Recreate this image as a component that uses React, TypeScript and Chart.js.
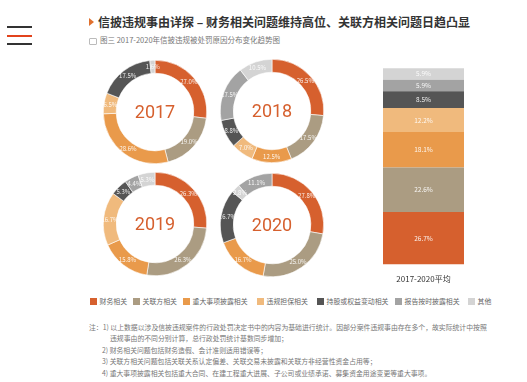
import React, { useEffect, useRef } from "react";
import { Chart, registerables } from "chart.js";

Chart.register(...registerables);

const categories = ["财务相关", "关联方相关", "重大事项披露相关", "违规担保相关", "持股或权益变动相关", "报告按时披露相关", "其他"];
const colors = ["#d6602e", "#ab9c82", "#e99a4b", "#f0ba7d", "#555555", "#a3a3a3", "#d4d4d4"];
const years = ["2017", "2018", "2019", "2020"];
const values2017 = [27.0, 19.0, 28.6, 6.5, 17.5, 0, 1.6];
const values2018 = [26.5, 17.5, 12.5, 7.0, 8.8, 17.5, 10.5];
const values2019 = [26.3, 26.3, 15.8, 16.7, 5.3, 4.4, 5.3];
const values2020 = [27.8, 25.0, 16.7, 0, 16.7, 11.1, 2.8];
const ringOrderDefault = [0, 1, 2, 3, 4, 5, 6];
const ringOrder2020 = [0, 1, 2, 3, 4, 6, 5];
const averageLabel = "2017-2020平均";
const averages = [26.7, 22.6, 18.1, 12.2, 8.5, 5.9, 5.9];

const title = "信披违规事由详探 – 财务相关问题维持高位、关联方相关问题日趋凸显";
const subtitle = "图三 2017-2020年信披违规被处罚原因分布变化趋势图";
const notes = [
  "注：1) 以上数据以涉及信披违规案件的行政处罚决定书中的内容为基础进行统计。因部分案件违规事由存在多个，故实际统计中按照",
  "违规事由的不同分别计算，总行政处罚统计基数同步增加；",
  "2) 财务相关问题包括财务造假、会计准则适用错误等；",
  "3) 关联方相关问题包括关联关系认定偏差、关联交易未披露和关联方非经营性资金占用等；",
  "4) 重大事项披露相关包括重大合同、在建工程重大进展、子公司或业绩承诺、募集资金用途变更等重大事项。",
];

const FONT = "'Noto Sans CJK SC', 'Noto Sans', sans-serif";

const arcLabelPlugin = {
  id: "arcLabels",
  afterDatasetsDraw(chart: any) {
    const ctx = chart.ctx;
    const meta = chart.getDatasetMeta(0);
    const data = chart.data.datasets[0].data;
    ctx.save();
    ctx.font = `6px ${FONT}`;
    ctx.fillStyle = "rgba(255,255,255,0.9)";
    ctx.textAlign = "center";
    ctx.textBaseline = "middle";
    meta.data.forEach((arc: any, i: number) => {
      const v = data[i];
      if (!v) return;
      const p = arc.getProps(["x", "y", "startAngle", "endAngle", "innerRadius", "outerRadius"], true);
      const a = (p.startAngle + p.endAngle) / 2;
      const r = (p.innerRadius + p.outerRadius) / 2;
      ctx.fillText(v.toFixed(1) + "%", p.x + Math.cos(a) * r, p.y + Math.sin(a) * r);
    });
    ctx.restore();
  },
};

const centerTextPlugin = {
  id: "centerText",
  afterDraw(chart: any) {
    const ctx = chart.ctx;
    const meta = chart.getDatasetMeta(0);
    const arc = meta.data[0];
    if (!arc) return;
    ctx.save();
    ctx.font = `18px Roboto, sans-serif`;
    ctx.fillStyle = "#d6602e";
    ctx.textAlign = "center";
    ctx.textBaseline = "middle";
    ctx.fillText(chart.options.plugins.centerText.text, arc.x, arc.y + 1);
    ctx.restore();
  },
};

const barLabelPlugin = {
  id: "barLabels",
  afterDatasetsDraw(chart: any) {
    const ctx = chart.ctx;
    ctx.save();
    ctx.font = `6.5px ${FONT}`;
    ctx.fillStyle = "rgba(255,255,255,0.9)";
    ctx.textAlign = "center";
    ctx.textBaseline = "middle";
    chart.data.datasets.forEach((ds: any, di: number) => {
      const meta = chart.getDatasetMeta(di);
      meta.data.forEach((bar: any, i: number) => {
        const v = ds.data[i];
        if (!v) return;
        ctx.fillText(v.toFixed(1) + "%", bar.x, (bar.y + bar.base) / 2);
      });
    });
    ctx.restore();
  },
};

function Donut({ year, values, order, left, top, size }: any) {
  const ref = useRef<HTMLCanvasElement>(null);
  useEffect(() => {
    const data = order.map((i: number) => values[i]);
    const bg = order.map((i: number) => colors[i]);
    const chart = new Chart(ref.current!, {
      type: "doughnut",
      data: {
        labels: order.map((i: number) => categories[i]),
        datasets: [{ data, backgroundColor: bg, borderWidth: 0.6, borderColor: "#ffffff" }],
      },
      options: {
        responsive: false,
        animation: false,
        cutout: "75%",
        layout: { padding: 0 },
        plugins: { legend: { display: false }, tooltip: { enabled: false }, centerText: { text: year } } as any,
      },
      plugins: [arcLabelPlugin, centerTextPlugin],
    });
    return () => chart.destroy();
  }, []);
  return <canvas ref={ref} width={size} height={size} style={{ position: "absolute", left, top, width: size, height: size }} />;
}

function StackBar() {
  const ref = useRef<HTMLCanvasElement>(null);
  useEffect(() => {
    const chart = new Chart(ref.current!, {
      type: "bar",
      data: {
        labels: [averageLabel],
        datasets: categories.map((c, i) => ({
          label: c,
          data: [averages[i]],
          backgroundColor: colors[i],
          borderWidth: 0,
          barPercentage: 0.89,
          categoryPercentage: 1,
        })),
      },
      options: {
        responsive: false,
        animation: false,
        layout: { padding: { top: 0, bottom: 2, left: 0, right: 0 } },
        scales: {
          x: {
            stacked: true,
            grid: { display: false },
            border: { display: false },
            ticks: { color: "#333", font: { size: 8, family: FONT }, padding: 2 },
          },
          y: { stacked: true, display: false, min: 0, max: 100 },
        },
        plugins: { legend: { display: false }, tooltip: { enabled: false } },
      },
      plugins: [barLabelPlugin],
    });
    return () => chart.destroy();
  }, []);
  return <canvas ref={ref} width={91} height={220} style={{ position: "absolute", left: 378, top: 68, width: 91, height: 220 }} />;
}

const legendLefts = [90, 133, 183, 257, 317, 395, 468];

export default function App() {
  const S = 104;
  const donuts = [
    { year: years[0], values: values2017, order: ringOrderDefault, cx: 155, cy: 112 },
    { year: years[1], values: values2018, order: ringOrderDefault, cx: 272, cy: 111 },
    { year: years[2], values: values2019, order: ringOrderDefault, cx: 155, cy: 224 },
    { year: years[3], values: values2020, order: ringOrder2020, cx: 272, cy: 225 },
  ];
  return (
    <div style={{ position: "fixed", left: 0, top: 0, width: 527, height: 382, background: "#fff", overflow: "hidden", fontFamily: FONT }}>
      {/* hamburger icon */}
      <div style={{ position: "absolute", left: 7, top: 26, width: 25, height: 2, background: "#333" }} />
      <div style={{ position: "absolute", left: 7, top: 34.5, width: 25, height: 2, background: "#e2431c" }} />
      <div style={{ position: "absolute", left: 7, top: 42.5, width: 25, height: 2, background: "#333" }} />
      {/* title */}
      <div style={{ position: "absolute", left: 89, top: 18, width: 0, height: 0, borderTop: "4px solid transparent", borderBottom: "4px solid transparent", borderLeft: "5px solid #e0702e" }} />
      <div style={{ position: "absolute", left: 98, top: 13, fontSize: 12, fontWeight: 700, color: "#333", whiteSpace: "nowrap", lineHeight: "17px" }}>{title}</div>
      {/* subtitle */}
      <div style={{ position: "absolute", left: 88.5, top: 37.5, width: 6, height: 5, border: "1px solid #bbb", borderRadius: 1 }} />
      <div style={{ position: "absolute", left: 100, top: 34, fontSize: 7.5, color: "#777", whiteSpace: "nowrap", lineHeight: "12px" }}>{subtitle}</div>
      {donuts.map((d) => (
        <Donut key={d.year} year={d.year} values={d.values} order={d.order} left={d.cx - S / 2} top={d.cy - S / 2} size={S} />
      ))}
      <StackBar />
      {/* legend */}
      {categories.map((c, i) => (
        <div key={c} style={{ position: "absolute", left: legendLefts[i], top: 297, display: "flex", alignItems: "center", whiteSpace: "nowrap" }}>
          <div style={{ width: 7, height: 7, background: colors[i], marginRight: 2.5 }} />
          <span style={{ fontSize: 6.9, color: "#666", lineHeight: "9px" }}>{c}</span>
        </div>
      ))}
      {/* notes */}
      {notes.map((n, i) => (
        <div key={i} style={{ position: "absolute", left: i === 0 ? 89 : i === 1 ? 110 : 102, top: 321.5 + i * 11.5, fontSize: 6.85, color: "#777", whiteSpace: "nowrap", lineHeight: "11px" }}>{n}</div>
      ))}
    </div>
  );
}
